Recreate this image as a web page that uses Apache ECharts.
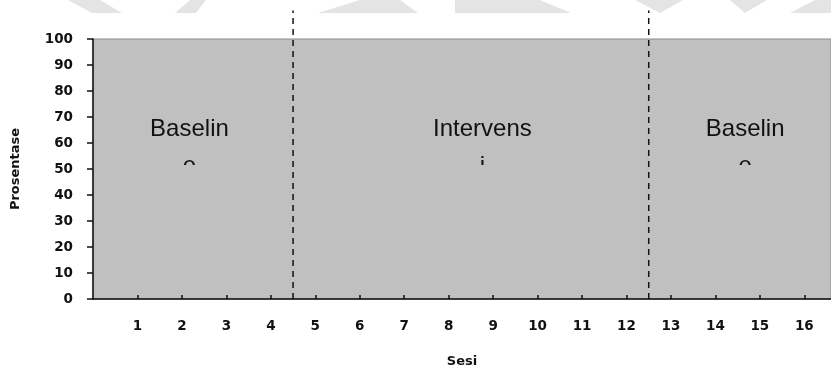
<!DOCTYPE html>
<html>
<head>
<meta charset="utf-8">
<script src="https://cdn.jsdelivr.net/npm/echarts@6/dist/echarts.min.js"></script>
<style>
  html, body { margin: 0; padding: 0; background: #fff; }
  #chart { width: 831px; height: 367px; }
</style>
</head>
<body>
<div id="chart"></div>
<script>
// sessions on the x axis
var sesi = [1, 2, 3, 4, 5, 6, 7, 8, 9, 10, 11, 12, 13, 14, 15, 16];
// y ticks
var yTicks = [0, 10, 20, 30, 40, 50, 60, 70, 80, 90, 100];
// phase change lines (between sessions), drawn from 0 up past the top
var phaseLines = [4.5, 12.5];
var phaseLineTop = 111;
// phase names, their clipped second line and position (x in sessions, y in %)
var phaseNames = ['Baselin', 'Intervens', 'Baselin'];
var phaseTails = ['e', 'i', 'e'];
var phaseX = [2.17, 8.76, 14.67];
var phaseY = 65.4;

var chart = echarts.init(document.getElementById('chart'));

var labelFont = { color: '#111', fontFamily: 'DejaVu Sans', fontWeight: 'bold', fontSize: 13.5 };
var nameFont = { color: '#111', fontFamily: 'DejaVu Sans', fontWeight: 'bold', fontSize: 13 };

var option = {
    animation: false,
    grid: {
        left: 93, right: 0, top: 39, bottom: 68,
        containLabel: false,
        outerBoundsMode: 'none',
        show: true,
        backgroundColor: '#c0c0c0',
        borderColor: '#8a8a8a',
        borderWidth: 1
    },
    xAxis: {
        type: 'value',
        min: 0,
        max: 16.6,
        interval: 1,
        name: 'Sesi',
        nameLocation: 'middle',
        nameGap: 56,
        nameTextStyle: nameFont,
        axisLine: { show: true, onZero: false, lineStyle: { color: '#111', width: 1.5 } },
        axisTick: { show: true, inside: true, length: 4, customValues: sesi, lineStyle: { color: '#111', width: 1.5 } },
        axisLabel: Object.assign({ margin: 20, customValues: sesi }, labelFont),
        splitLine: { show: false }
    },
    yAxis: {
        type: 'value',
        min: 0,
        max: 100,
        interval: 10,
        name: 'Prosentase',
        nameLocation: 'middle',
        nameGap: 71,
        nameTextStyle: nameFont,
        axisLine: { show: true, lineStyle: { color: '#111', width: 1.5 } },
        axisTick: { show: true, length: 6, lineStyle: { color: '#111', width: 1.5 } },
        axisLabel: Object.assign({ margin: 20, customValues: yTicks }, labelFont),
        splitLine: { show: false }
    },
    series: [{
        type: 'line',
        data: sesi.map(function (s) { return [s, null]; }),
        symbol: 'none',
        lineStyle: { opacity: 0 }
    }]
};
chart.setOption(option);

var graphics = [];
// dashed phase change lines, positioned through the axes
phaseLines.forEach(function (x) {
    var a = chart.convertToPixel({ gridIndex: 0 }, [x, 0]);
    var b = chart.convertToPixel({ gridIndex: 0 }, [x, phaseLineTop]);
    graphics.push({
        type: 'line', z: 20,
        shape: { x1: a[0], y1: a[1], x2: b[0], y2: b[1] },
        style: { stroke: '#111', lineWidth: 1.5, lineDash: [6, 5] }
    });
});
// phase names with the clipped second line
phaseNames.forEach(function (n, i) {
    var p = chart.convertToPixel({ gridIndex: 0 }, [phaseX[i], phaseY]);
    graphics.push({
        type: 'text', x: p[0], y: p[1], z: 10,
        style: { text: n, fill: '#111', font: '24px "Liberation Sans"', align: 'center', verticalAlign: 'middle' }
    });
    graphics.push({
        type: 'text', x: p[0], y: p[1] + 37, z: 10,
        style: { text: phaseTails[i], fill: '#111', font: '24px "Liberation Sans"', align: 'center', verticalAlign: 'middle' }
    });
    graphics.push({
        type: 'rect', z: 11,
        shape: { x: p[0] - 12, y: p[1] + 36, width: 24, height: 20 },
        style: { fill: '#c0c0c0' }
    });
});
// faint watermark shapes above the plot
var wm = [
    [[68, 0], [100, 0], [122, 13], [92, 13]],
    [[175, 13], [190, 0], [206, 0], [196, 13]],
    [[318, 13], [360, 0], [400, 0], [418, 13]],
    [[455, 0], [540, 0], [571, 13], [455, 13]],
    [[635, 0], [683, 0], [660, 13]],
    [[730, 0], [767, 0], [745, 13]],
    [[790, 13], [815, 0], [831, 0], [831, 13]]
];
wm.forEach(function (pts) {
    graphics.push({ type: 'polygon', z: -1, shape: { points: pts }, style: { fill: '#e4e4e4' } });
});
chart.setOption({ graphic: graphics });
</script>
</body>
</html>
